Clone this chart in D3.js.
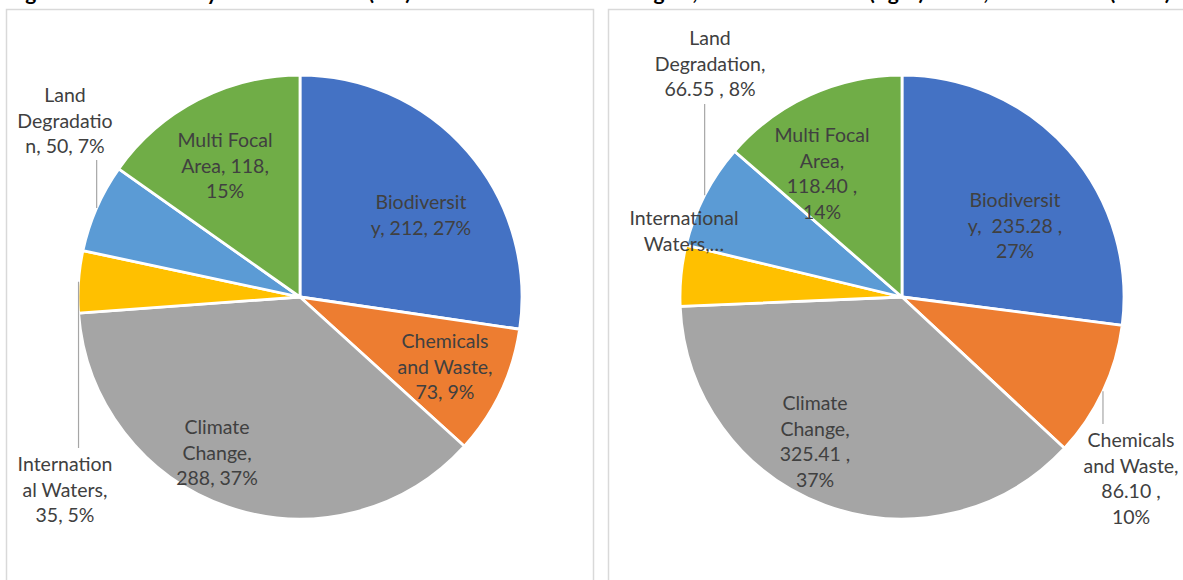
<!DOCTYPE html>
<html>
<head>
<meta charset="utf-8">
<script src="https://cdn.jsdelivr.net/npm/d3@7"></script>
<style>
  body { margin: 0; background: #fff; }
  svg { display: block; }
  text { font-family: Lato, "Open Sans", sans-serif; }
</style>
</head>
<body>
<svg id="chart" width="1183" height="580"></svg>
<script>
// Focal areas, in drawing order (clockwise from 12 o'clock)
const categories = ["Biodiversity", "Chemicals and Waste", "Climate Change",
                    "International Waters", "Land Degradation", "Multi Focal Area"];
const sliceColors = ["#4472C4", "#ED7D31", "#A5A5A5", "#FFC000", "#5B9BD5", "#70AD47"];

// Left pie: amounts per focal area
const leftValues = [212, 73, 288, 35, 50, 118];
// Right pie: amounts per focal area
const rightValues = [235.28, 86.10, 325.41, 38.50, 66.55, 118.40];

// Data label text, wrapped line by line
const leftLabels = [
  ["Biodiversit", "y, 212, 27%"],
  ["Chemicals", "and Waste,", "73, 9%"],
  ["Climate", "Change,", "288, 37%"],
  ["Internation", "al Waters,", "35, 5%"],
  ["Land", "Degradatio", "n, 50, 7%"],
  ["Multi Focal", "Area, 118,", "15%"]
];
const rightLabels = [
  ["Biodiversit", "y,  235.28 ,", "27%"],
  ["Chemicals", "and Waste,", "86.10 ,", "10%"],
  ["Climate", "Change,", "325.41 ,", "37%"],
  ["International", "Waters,\u2026"],
  ["Land", "Degradation,", "66.55 , 8%"],
  ["Multi Focal", "Area,", "118.40 ,", "14%"]
];

const titleText = "Figure 5: Resources by GEF Focal Area (left) and GEF-7 Indicative Budgets, GEF-7 Focal Area (right) Totals, USD million (share)";

// ---- layout (kept apart from the data) ----
const radius = 222;
const lineGap = 25.7;
// label anchor: [centre x offset, first line centre y offset, leader end y offset or null]
const leftLayout = [
  [121, -95, null],
  [145, 44, null],
  [-83, 130, null],
  [-235, 167, 151],
  [-235, -202, -137],
  [-75, -157, null]
];
const rightLayout = [
  [113, -97, null],
  [229, 143, 127],
  [-87, 106, null],
  [-218, -79, null],
  [-192, -259, -193],
  [-80, -162, null]
];

const svg = d3.select("#chart");

// Frames of the two chart panels
svg.append("rect").attr("x", 6.5).attr("y", 9.5).attr("width", 587).attr("height", 620)
  .attr("fill", "none").attr("stroke", "#d9d9d9").attr("stroke-width", 1.5);
svg.append("rect").attr("x", 608.5).attr("y", 9.5).attr("width", 620).attr("height", 620)
  .attr("fill", "none").attr("stroke", "#d9d9d9").attr("stroke-width", 1.5);

// Figure caption running off the top edge
svg.append("text").attr("x", 8).attr("y", -0.5)
  .attr("font-size", 21).attr("font-weight", 700).attr("fill", "#000")
  .text(titleText);

const pie = d3.pie().sort(null).value(d => d.value);
const arc = d3.arc().innerRadius(0).outerRadius(radius);

function drawPie(cx, cy, values, labels, layout) {
  const data = categories.map((c, i) => ({ name: c, value: values[i], color: sliceColors[i],
                                            lines: labels[i], pos: layout[i] }));
  const arcs = pie(data);
  const g = svg.append("g").attr("transform", `translate(${cx},${cy})`);

  g.selectAll("path.slice").data(arcs).join("path")
    .attr("class", "slice")
    .attr("d", arc)
    .attr("fill", d => d.data.color)
    .attr("stroke", "#fff")
    .attr("stroke-width", 2.8)
    .attr("stroke-linejoin", "round");

  // Leader lines for labels placed outside the pie
  arcs.filter(d => d.data.pos[2] !== null).forEach(d => {
    const mid = (d.startAngle + d.endAngle) / 2;
    const px = radius * Math.sin(mid), py = -radius * Math.cos(mid);
    g.append("line")
      .attr("x1", px).attr("y1", py)
      .attr("x2", px).attr("y2", d.data.pos[2])
      .attr("stroke", "#a6a6a6").attr("stroke-width", 1.2);
  });

  // Data labels
  const lbl = g.selectAll("text.lbl").data(arcs).join("text")
    .attr("class", "lbl")
    .attr("text-anchor", "middle")
    .attr("font-size", 19.5)
    .attr("fill", "#404040");
  lbl.each(function(d) {
    const t = d3.select(this);
    d.data.lines.forEach((line, k) => {
      t.append("tspan")
        .attr("x", d.data.pos[0])
        .attr("y", d.data.pos[1] + k * lineGap + 7)
        .attr("xml:space", "preserve")
        .text(line);
    });
  });
}

drawPie(300, 297, leftValues, leftLabels, leftLayout);
drawPie(902, 297, rightValues, rightLabels, rightLayout);
</script>
</body>
</html>
